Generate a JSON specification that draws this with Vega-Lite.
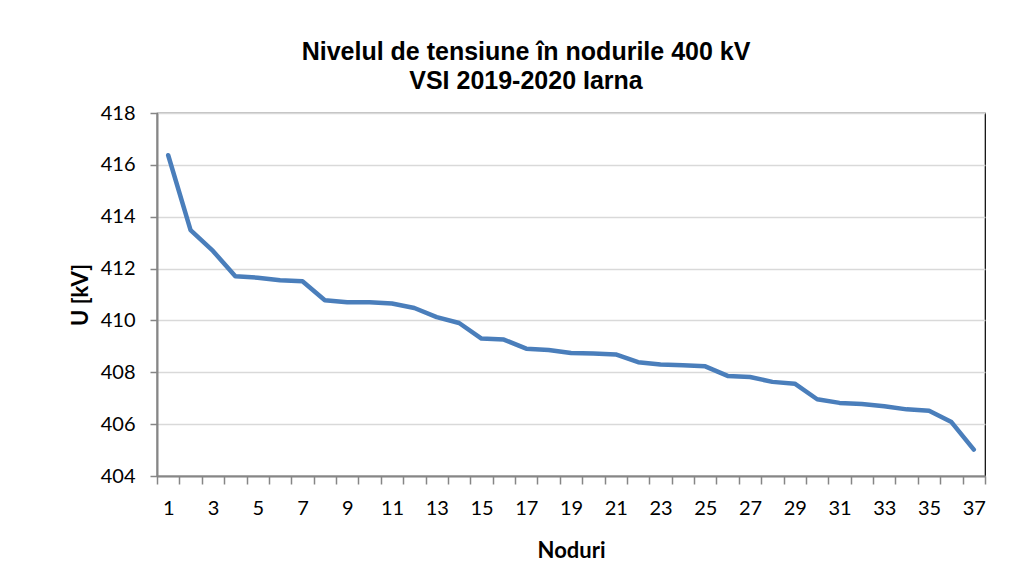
{
  "$schema": "https://vega.github.io/schema/vega-lite/v6.json",
  "width": 828,
  "height": 363,
  "autosize": {"type": "none"},
  "padding": {"left": 157, "top": 113, "right": 41, "bottom": 107},
  "background": "white",
  "title": {
    "text": ["Nivelul de tensiune în nodurile 400 kV", "VSI 2019-2020 Iarna"],
    "font": "Liberation Sans",
    "fontSize": 25,
    "fontWeight": "bold",
    "color": "#000000",
    "lineHeight": 29,
    "anchor": "middle",
    "dx": -45,
    "offset": 9
  },
  "config": {
    "view": {"stroke": "#000000", "strokeWidth": 1.2},
    "axis": {
      "labelFont": "Lato",
      "labelFontSize": 20,
      "labelColor": "#000000",
      "titleFont": "Lato",
      "titleFontSize": 22,
      "titleFontWeight": "bold",
      "titleColor": "#000000",
      "domainColor": "#868686",
      "domainWidth": 2,
      "tickColor": "#868686",
      "tickWidth": 1.5
    }
  },
  "data": {
    "values": [
      {"n": 1, "u": 416.37}, {"n": 2, "u": 413.48}, {"n": 3, "u": 412.68},
      {"n": 4, "u": 411.70}, {"n": 5, "u": 411.65}, {"n": 6, "u": 411.55},
      {"n": 7, "u": 411.51}, {"n": 8, "u": 410.78}, {"n": 9, "u": 410.70},
      {"n": 10, "u": 410.70}, {"n": 11, "u": 410.65}, {"n": 12, "u": 410.48},
      {"n": 13, "u": 410.13}, {"n": 14, "u": 409.90}, {"n": 15, "u": 409.30},
      {"n": 16, "u": 409.26}, {"n": 17, "u": 408.91}, {"n": 18, "u": 408.86},
      {"n": 19, "u": 408.74}, {"n": 20, "u": 408.72}, {"n": 21, "u": 408.69},
      {"n": 22, "u": 408.39}, {"n": 23, "u": 408.30}, {"n": 24, "u": 408.27},
      {"n": 25, "u": 408.23}, {"n": 26, "u": 407.86}, {"n": 27, "u": 407.82},
      {"n": 28, "u": 407.63}, {"n": 29, "u": 407.56}, {"n": 30, "u": 406.96},
      {"n": 31, "u": 406.82}, {"n": 32, "u": 406.78}, {"n": 33, "u": 406.69},
      {"n": 34, "u": 406.57}, {"n": 35, "u": 406.52}, {"n": 36, "u": 406.08},
      {"n": 37, "u": 405.02}
    ]
  },
  "mark": {"type": "line", "color": "#4A7EBB", "strokeWidth": 4.5, "strokeCap": "round", "strokeJoin": "round"},
  "encoding": {
    "x": {
      "field": "n",
      "type": "ordinal",
      "bandPosition": 0.5,
      "scale": {"type": "band", "paddingInner": 0, "paddingOuter": 0},
      "axis": {
        "title": "Noduri",
        "tickBand": "extent",
        "labelAngle": 0,
        "labelOverlap": false,
        "labelExpr": "datum.value % 2 == 1 ? datum.label : ''",
        "tickSize": 8,
        "labelPadding": 14,
        "titlePadding": 22,
        "grid": false
      }
    },
    "y": {
      "field": "u",
      "type": "quantitative",
      "scale": {"domain": [404, 418], "nice": false, "zero": false},
      "axis": {
        "title": "U [kV]",
        "values": [404, 406, 408, 410, 412, 414, 416, 418],
        "tickSize": 7,
        "labelPadding": 15,
        "titlePadding": 8,
        "gridColor": "#d9d9d9",
        "gridWidth": 1.3
      }
    }
  }
}
